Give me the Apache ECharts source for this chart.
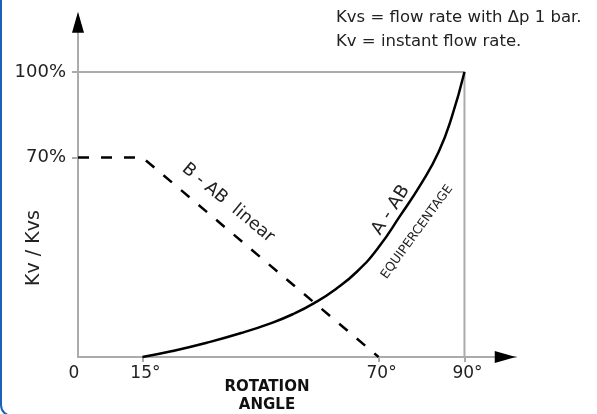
<!DOCTYPE html>
<html>
<head>
<meta charset="utf-8">
<script src="https://cdn.jsdelivr.net/npm/echarts@6/dist/echarts.min.js"></script>
<style>
html,body{margin:0;padding:0;background:#fff;overflow:hidden;}
#frame{position:absolute;left:0;top:-20px;width:900px;height:437px;border:2px solid #1a62b8;border-radius:12px;box-sizing:border-box;}
#chart{position:absolute;left:0;top:0;width:597px;height:414px;}
</style>
</head>
<body>
<div id="frame"></div>
<div id="chart"></div>
<script>
// ---- data ----
var xTickValues = [0, 15, 70, 90];
var yTickValues = [70, 100];
var linearB = [[0, 70], [15, 70], [70, 0]];
var equiA = [[15, 0], [22, 2.1], [30, 5], [38, 8.4], [45, 11.9], [50, 15], [55, 18.9], [60, 23.8], [65, 30], [70, 38.5], [75, 49.5], [80, 61], [84, 72], [87, 84], [90, 100]];
var frame100 = [[0, 100], [90, 100], [90, 0]];
var X_MAX = 102, Y_MAX = 120;

var FONT = 'DejaVu Sans';
var chart = echarts.init(document.getElementById('chart'));
chart.setOption({
  animation: false,
  grid: {left: 78, right: 81, top: 15, bottom: 57},
  xAxis: {
    type: 'value', min: 0, max: X_MAX,
    splitLine: {show: false},
    axisLine: {lineStyle: {color: '#ababab', width: 2}},
    axisTick: {customValues: [15, 70, 90], length: 5, lineStyle: {color: '#ababab', width: 2}},
    axisLabel: {customValues: xTickValues, color: '#222', fontSize: 17, fontFamily: FONT, margin: 8,
      formatter: function (v) { return v === 0 ? '{z|0}' : '{d|' + v + '°}'; },
      rich: {
        z: {fontSize: 17, fontFamily: FONT, color: '#222', padding: [0, 8, 0, 0]},
        d: {fontSize: 17, fontFamily: FONT, color: '#222', padding: [0, 0, 0, 6]}
      }}
  },
  yAxis: {
    type: 'value', min: 0, max: Y_MAX,
    splitLine: {show: false},
    axisLine: {lineStyle: {color: '#ababab', width: 2}},
    axisTick: {customValues: yTickValues, length: 6, lineStyle: {color: '#ababab', width: 2}},
    axisLabel: {customValues: yTickValues, color: '#222', fontSize: 18, fontFamily: FONT, margin: 12,
      formatter: function (v) { return v + '%'; }}
  },
  series: [
    {type: 'line', data: frame100, symbol: 'none', lineStyle: {color: '#ababab', width: 2}, z: 1,
      markPoint: {symbol: 'triangle', silent: true, label: {show: false}, itemStyle: {color: '#000'},
        data: [
          {coord: [X_MAX - 2.5, 0], symbolSize: [12, 21], symbolRotate: -90},
          {coord: [0, Y_MAX - 2.5], symbolSize: [12, 21], symbolRotate: 0}
        ]}},
    {type: 'line', data: linearB, symbol: 'none', lineStyle: {color: '#000', width: 2.5, type: [11, 12]}, z: 3},
    {type: 'line', data: equiA, symbol: 'none', smooth: 0.5, lineStyle: {color: '#000', width: 2.5}, z: 3}
  ],
  graphic: [
    {type: 'text', left: 336, top: 9, style: {text: 'Kvs = flow rate with \u0394p 1 bar.', font: '16.5px ' + FONT, fill: '#222'}},
    {type: 'text', left: 336, top: 33, style: {text: 'Kv = instant flow rate.', font: '16.5px ' + FONT, fill: '#222'}},
    {type: 'text', x: 34, y: 248, rotation: Math.PI / 2, style: {text: 'Kv / Kvs', font: '19px ' + FONT, fill: '#222', align: 'center', verticalAlign: 'middle'}},
    {type: 'text', x: 267, y: 387, style: {text: 'ROTATION', font: 'bold 15px ' + FONT, fill: '#111', align: 'center', verticalAlign: 'middle'}},
    {type: 'text', x: 267, y: 405, style: {text: 'ANGLE', font: 'bold 15px ' + FONT, fill: '#111', align: 'center', verticalAlign: 'middle'}},
    {type: 'text', x: 228, y: 203, rotation: -0.69, style: {text: 'B - AB  linear', font: '17.5px ' + FONT, fill: '#222', align: 'center', verticalAlign: 'middle'}},
    {type: 'text', x: 391, y: 210, rotation: 1.0, style: {text: 'A - AB', font: '18px ' + FONT, fill: '#222', align: 'center', verticalAlign: 'middle'}},
    {type: 'text', x: 417, y: 232, rotation: 0.94, style: {text: 'EQUIPERCENTAGE', font: '12.5px ' + FONT, fill: '#222', align: 'center', verticalAlign: 'middle'}}
  ]
});
</script>
</body>
</html>
